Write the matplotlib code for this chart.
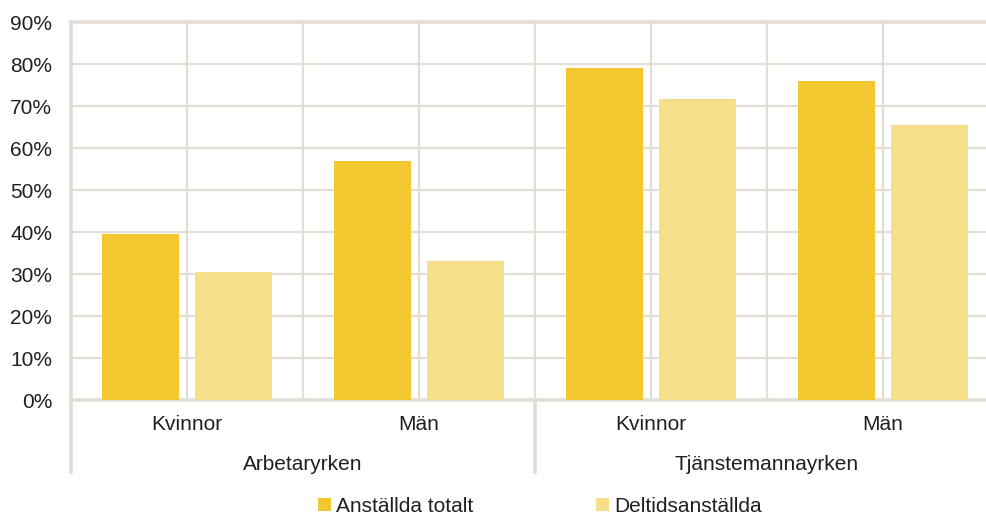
import numpy as np
import matplotlib
matplotlib.use('Agg')
import matplotlib.pyplot as plt
from matplotlib.lines import Line2D

plt.rcParams['font.family'] = ['Liberation Sans', 'DejaVu Sans']

# Andel (%) per yrkesgrupp och kön
groups = ['Arbetaryrken', 'Tjänstemannayrken']
sexes = ['Kvinnor', 'Män', 'Kvinnor', 'Män']
totalt = [39.5, 57.0, 79.0, 76.0]
deltid = [30.5, 33.0, 71.7, 65.5]
series_names = ['Anställda totalt', 'Deltidsanställda']
y_ticks = [0, 10, 20, 30, 40, 50, 60, 70, 80, 90]

dark = '#F2C72F'
light = '#F6DF8B'
grid = '#E3DDD4'
text = '#231F20'
fs = 15

fig = plt.figure(figsize=(9.87, 5.16), dpi=100)
# axes runs a little past the right edge of the figure
ax = fig.add_axes([71 / 987, 1 - 400 / 516, 928 / 987, 378 / 516])

x = np.arange(len(sexes)) + 0.5
w = 0.332
ax.bar(x - 0.2, totalt, w, color=dark, label=series_names[0], zorder=3)
ax.bar(x + 0.2, deltid, w, color=light, label=series_names[1], zorder=3)

ax.set_xlim(0, len(sexes))
ax.set_ylim(0, 90)
ax.set_yticks(y_ticks)
ax.set_yticklabels([f'{v}%' for v in y_ticks], fontsize=fs, color=text)
ax.set_xticks(x)
ax.set_xticklabels(sexes, fontsize=fs, color=text)
ax.tick_params(axis='both', length=0)
ax.tick_params(axis='y', pad=13.5)
ax.tick_params(axis='x', pad=11)

# grid: every 10 % and every half category
for v in y_ticks[1:-1]:
    ax.axhline(v, color=grid, lw=1.6, zorder=1)
for v in np.arange(0.5, len(sexes), 0.5):
    ax.axvline(v, color=grid, lw=1.6, zorder=1)

ax.spines['right'].set_visible(False)
ax.spines['left'].set_visible(False)
for s in ['top', 'bottom']:
    ax.spines[s].set_color(grid)
    ax.spines[s].set_linewidth(2.6)

# left axis line and group separator reach down past the category labels
drop = -72 / 378
ax.add_line(Line2D([0, 0], [drop, 1], transform=ax.get_xaxis_transform(),
                   color=grid, lw=2.6, clip_on=False, zorder=4))
ax.add_line(Line2D([2, 2], [drop, 0], transform=ax.get_xaxis_transform(),
                   color=grid, lw=2.6, clip_on=False, zorder=4))

for i, g in enumerate(groups):
    ax.text(1 + 2 * i, -65 / 378, g, transform=ax.get_xaxis_transform(),
            ha='center', va='center', fontsize=fs, color=text)

fig.legend(loc='center', bbox_to_anchor=(540 / 987, 1 - 506 / 516), ncol=2,
           frameon=False, fontsize=fs, handlelength=0.6, handleheight=0.6,
           handletextpad=0.25, columnspacing=5.9, labelcolor=text)

fig.savefig('out.png', dpi=100)
